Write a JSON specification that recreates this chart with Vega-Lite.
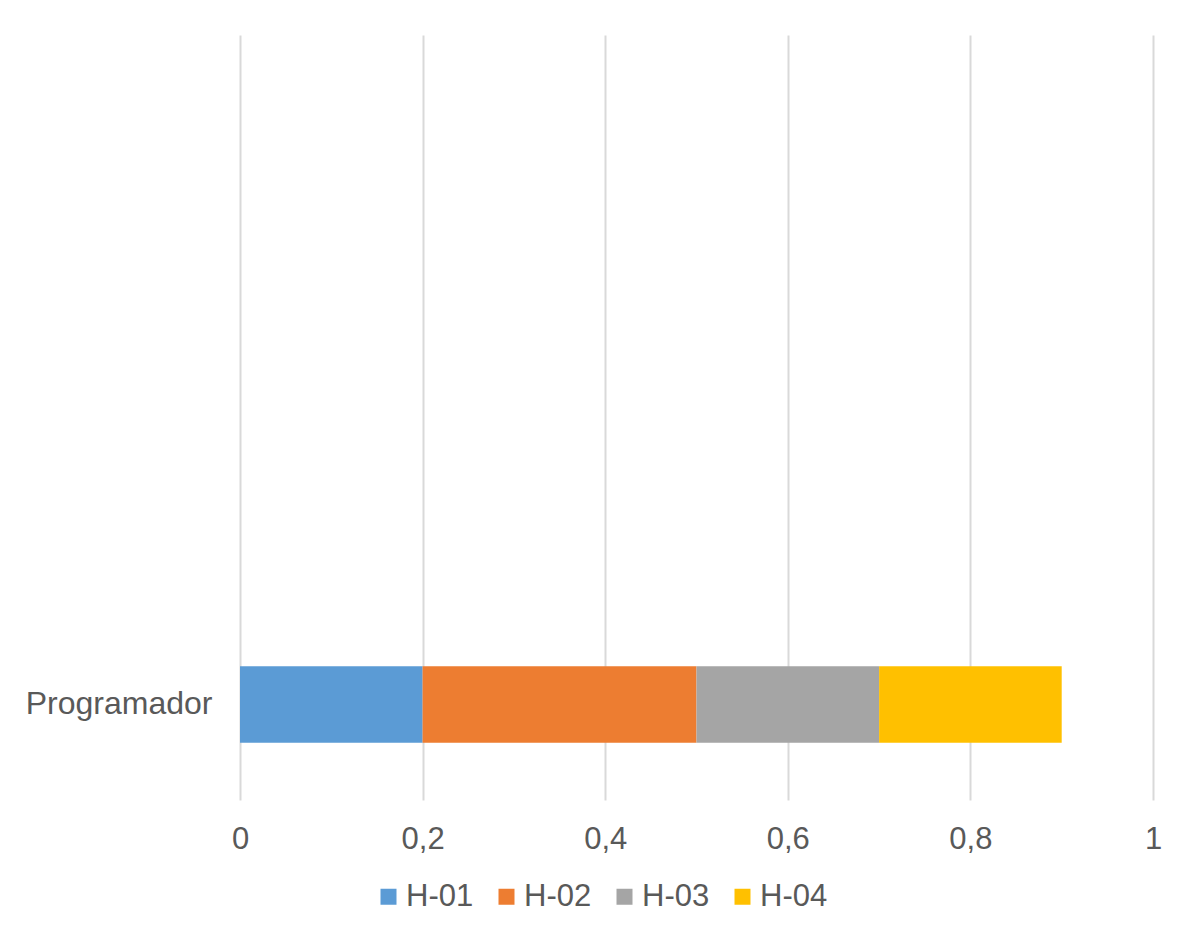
{
  "$schema": "https://vega.github.io/schema/vega-lite/v6.json",
  "width": 913,
  "height": 765,
  "autosize": {"type": "none"},
  "padding": {"left": 240, "top": 35, "right": 43, "bottom": 133},
  "background": "white",
  "config": {
    "view": {"stroke": null},
    "font": "Liberation Sans",
    "axis": {"labelColor": "#595959", "labelFontSize": 31, "labelFont": "Liberation Sans"},
    "legend": {"labelColor": "#595959", "labelFontSize": 31, "labelFont": "Liberation Sans"}
  },
  "data": {
    "values": [
      {"rol": "Programador", "serie": "H-01", "valor": 0.2},
      {"rol": "Programador", "serie": "H-02", "valor": 0.3},
      {"rol": "Programador", "serie": "H-03", "valor": 0.2},
      {"rol": "Programador", "serie": "H-04", "valor": 0.2}
    ]
  },
  "mark": {"type": "bar"},
  "encoding": {
    "y": {
      "field": "rol",
      "type": "nominal",
      "scale": {
        "domain": ["c4", "c3", "c2", "Programador"],
        "paddingInner": 0.6,
        "paddingOuter": 0.3
      },
      "axis": {
        "title": null,
        "domain": false,
        "ticks": false,
        "grid": false,
        "labelPadding": 28,
        "labelLimit": 400,
        "labelFontSize": 32,
        "labelExpr": "datum.value == 'Programador' ? datum.value : ''"
      }
    },
    "x": {
      "field": "valor",
      "type": "quantitative",
      "stack": "zero",
      "scale": {"domain": [0, 1], "nice": false},
      "axis": {
        "title": null,
        "values": [0, 0.2, 0.4, 0.6, 0.8, 1],
        "format": ".1~f",
        "labelExpr": "replace(datum.label, '.', ',')",
        "domain": false,
        "ticks": false,
        "grid": true,
        "gridColor": "#d9d9d9",
        "gridWidth": 2,
        "labelPadding": 24,
        "labelFlush": false
      }
    },
    "color": {
      "field": "serie",
      "type": "nominal",
      "scale": {
        "domain": ["H-01", "H-02", "H-03", "H-04"],
        "range": ["#5B9BD5", "#ED7D31", "#A5A5A5", "#FFC000"]
      },
      "legend": {
        "title": null,
        "orient": "none",
        "legendX": 133,
        "legendY": 846,
        "direction": "horizontal",
        "symbolType": "square",
        "symbolSize": 256,
        "symbolStrokeWidth": 0,
        "labelOffset": 2,
        "columnPadding": 17
      }
    },
    "order": {"field": "serie", "sort": "ascending"}
  }
}
